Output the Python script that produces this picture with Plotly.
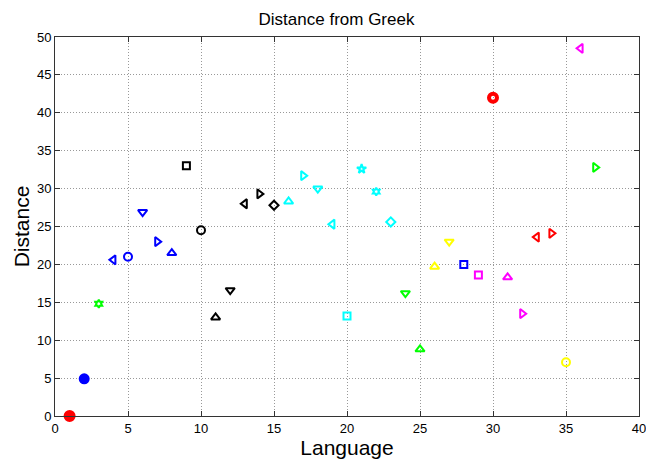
import plotly.graph_objects as go

languages = list(range(1, 38))
distances = [0.0, 4.9, 14.8, 20.6, 21.0, 26.9, 23.0, 21.5, 33.0, 24.5,
             13.0, 16.6, 28.0, 29.3, 27.8, 28.3, 31.7, 30.0, 25.3, 13.2,
             32.6, 29.6, 25.6, 16.2, 8.8, 19.7, 23.0, 20.0, 18.6, 42.0,
             18.3, 13.5, 23.6, 24.1, 7.1, 48.5, 32.8]
colors = ["#FF0000", "#0000FF", "#00FF00", "#0000FF", "#0000FF", "#0000FF", "#0000FF", "#0000FF",
          "#000000", "#000000", "#000000", "#000000", "#000000", "#000000", "#000000",
          "#00FFFF", "#00FFFF", "#00FFFF", "#00FFFF", "#00FFFF", "#00FFFF", "#00FFFF", "#00FFFF",
          "#00FF00", "#00FF00", "#FFFF00", "#FFFF00", "#0000FF", "#FF00FF", "#FF0000",
          "#FF00FF", "#FF00FF", "#FF0000", "#FF0000", "#FFFF00", "#FF00FF", "#00FF00"]
symbols = ["circle", "circle", "hexagram-open", "triangle-left-open", "circle-open",
           "triangle-down-open", "triangle-right-open", "triangle-up-open", "square-open",
           "circle-open", "triangle-up-open", "triangle-down-open", "triangle-left-open",
           "triangle-right-open", "diamond-open", "triangle-up-open", "triangle-right-open",
           "triangle-down-open", "triangle-left-open", "square-open", "star-open",
           "hexagram-open", "diamond-open", "triangle-down-open", "triangle-up-open",
           "triangle-up-open", "triangle-down-open", "square-open", "square-open",
           "circle-open", "triangle-up-open", "triangle-right-open", "triangle-left-open",
           "triangle-right-open", "circle-open", "triangle-left-open", "triangle-right-open"]
sizes = [10, 9, 6, 8, 8, 8, 8, 8, 7, 8, 8, 8, 8, 8, 7, 8, 8, 8, 8, 7, 7, 6, 7,
         8, 8, 8, 8, 7, 7, 8, 8, 8, 8, 8, 8, 8, 8]
widths = [2] * 37
widths[29] = 4

fig = go.Figure()
fig.add_trace(go.Scatter(
    x=languages, y=distances, mode="markers",
    marker=dict(symbol=symbols, color=colors, size=sizes, opacity=1,
                line=dict(color=colors, width=widths)),
    showlegend=False, cliponaxis=False))

font = "Liberation Sans, Arial"
axis_common = dict(showline=True, linecolor="#333333", linewidth=1, mirror="ticks",
                   ticks="inside", ticklen=5, tickcolor="#333333", automargin=False,
                   ticklabeloverflow="allow",
                   showgrid=True, gridcolor="#999999", griddash="1px,2px", gridwidth=1,
                   zeroline=False, tickfont=dict(family=font, size=13, color="black"))

fig.update_layout(
    width=646, height=461,
    margin=dict(l=55, r=7, t=37, b=45),
    paper_bgcolor="white", plot_bgcolor="white",
    title=dict(text="Distance from Greek", x=336.5 / 646, xref="container", xanchor="center",
               y=1 - 19 / 461, yanchor="middle", automargin=False,
               font=dict(family=font, size=17, color="black")),
    xaxis=dict(range=[0, 40], dtick=5, title=dict(text="Language", standoff=0,
               font=dict(family=font, size=21, color="black")), **axis_common),
    yaxis=dict(range=[0, 50], dtick=5, title=dict(text="Distance", standoff=1,
               font=dict(family=font, size=21, color="black")), **axis_common),
)

fig.write_html("out.html")
